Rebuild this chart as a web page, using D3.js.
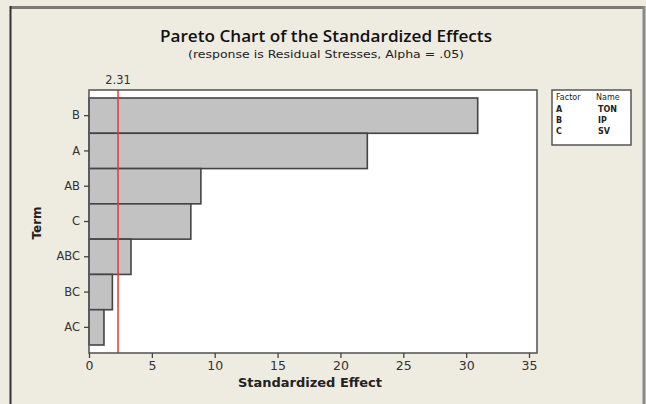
<!DOCTYPE html>
<html><head><meta charset="utf-8">
<script src="https://cdn.jsdelivr.net/npm/d3@7"></script>
<style>body{margin:0;background:#EEEBE1;} svg{display:block;}</style>
</head><body>
<svg id="c" width="646" height="404"></svg>
<script>
const terms = ["B","A","AB","C","ABC","BC","AC"];
const effects = [30.92, 22.14, 8.9, 8.1, 3.34, 1.86, 1.19];
const xTicks = [0,5,10,15,20,25,30,35];
const critical = 2.31;
const legendFactors = ["A","B","C"];
const legendNames = ["TON","IP","SV"];

const svg = d3.select("#c");
const W=646,H=404;
svg.append("rect").attr("width",W).attr("height",H).attr("fill","#EEEBE1");
// outer frame
svg.append("line").attr("x1",10).attr("x2",645).attr("y1",7.5).attr("y2",7.5).attr("stroke","#7a7a7a").attr("stroke-width",3);
svg.append("line").attr("x1",10.5).attr("x2",10.5).attr("y1",6).attr("y2",404).attr("stroke","#333").attr("stroke-width",2);
svg.append("line").attr("x1",644).attr("x2",644).attr("y1",6).attr("y2",404).attr("stroke","#8a8a8a").attr("stroke-width",3);

const font="DejaVu Sans, Verdana, sans-serif";
svg.append("text").attr("x",326).attr("y",42).attr("text-anchor","middle")
  .attr("font-family","'Open Sans', 'Noto Sans', sans-serif").attr("font-size",15.5).attr("font-weight",600).attr("fill","#111")
  .attr("textLength",332).attr("lengthAdjust","spacingAndGlyphs")
  .text("Pareto Chart of the Standardized Effects");
svg.append("text").attr("x",326).attr("y",58).attr("text-anchor","middle")
  .attr("font-family",font).attr("font-size",11).attr("fill","#222")
  .attr("textLength",276).attr("lengthAdjust","spacingAndGlyphs")
  .text("(response is Residual Stresses, Alpha = .05)");

const pL=89,pR=537,pT=90,pB=353;
const x=d3.scaleLinear().domain([0,35]).range([89,529]);
const y=d3.scaleBand().domain(terms).range([98,345]).paddingInner(0);

svg.append("rect").attr("x",pL).attr("y",pT).attr("width",pR-pL).attr("height",pB-pT)
  .attr("fill","#fff");

const data = terms.map((t,i)=>({t,v:effects[i]}));
svg.selectAll("rect.bar").data(data).enter().append("rect").attr("class","bar")
  .attr("x",x(0)).attr("y",d=>y(d.t)).attr("width",d=>x(d.v)-x(0)).attr("height",y.bandwidth())
  .attr("fill","#C2C2C2").attr("stroke","#444").attr("stroke-width",1.6);

svg.append("line").attr("x1",x(critical)).attr("x2",x(critical)).attr("y1",pT).attr("y2",pB)
  .attr("stroke","#e8363a").attr("stroke-width",1.5);

svg.append("rect").attr("x",pL).attr("y",pT).attr("width",pR-pL).attr("height",pB-pT)
  .attr("fill","none").attr("stroke","#5a5a5a").attr("stroke-width",1.6);

svg.append("text").attr("x",x(critical)).attr("y",84).attr("text-anchor","middle")
  .attr("font-family",font).attr("font-size",11.5).attr("fill","#333").text(critical.toFixed(2));

const xa = svg.append("g").attr("transform",`translate(0,${pB})`)
  .call(d3.axisBottom(x).tickValues(xTicks).tickSize(5).tickSizeOuter(0).tickPadding(3));
xa.select(".domain").remove();
xa.selectAll("line").attr("stroke","#444").attr("stroke-width",1.3);
xa.selectAll("text").attr("font-family",font).attr("font-size",12.5).attr("fill","#333");

const ya = svg.append("g").attr("transform",`translate(${pL},0)`)
  .call(d3.axisLeft(y).tickSize(5).tickSizeOuter(0).tickPadding(4));
ya.select(".domain").remove();
ya.selectAll("line").attr("stroke","#444").attr("stroke-width",1.3);
ya.selectAll("text").attr("font-family",font).attr("font-size",11.5).attr("fill","#333");

svg.append("text").attr("x",310).attr("y",387).attr("text-anchor","middle")
  .attr("font-family",font).attr("font-size",12).attr("font-weight","bold").attr("fill","#222")
  .attr("textLength",144).attr("lengthAdjust","spacingAndGlyphs").text("Standardized Effect");
svg.append("text").attr("transform","translate(41,223) rotate(-90)").attr("text-anchor","middle")
  .attr("font-family",font).attr("font-size",12).attr("font-weight","bold").attr("fill","#222").text("Term");

// legend
const lg = svg.append("g");
lg.append("rect").attr("x",552).attr("y",90).attr("width",79).attr("height",55)
  .attr("fill","#fff").attr("stroke","#555").attr("stroke-width",1.5);
const lf = {"font-family":font,"font-size":8,"font-weight":"bold","fill":"#222"};
function lt(xp,yp,s){const t=lg.append("text").attr("x",xp).attr("y",yp).text(s);for(const k in lf)t.attr(k,lf[k]);return t;}
lt(556,100,"Factor").attr("font-weight","normal");
lt(596,100,"Name").attr("font-weight","normal");
legendFactors.forEach((f,i)=>{lt(556,112+i*11,f);lt(598,112+i*11,legendNames[i]);});
</script>
</body></html>
